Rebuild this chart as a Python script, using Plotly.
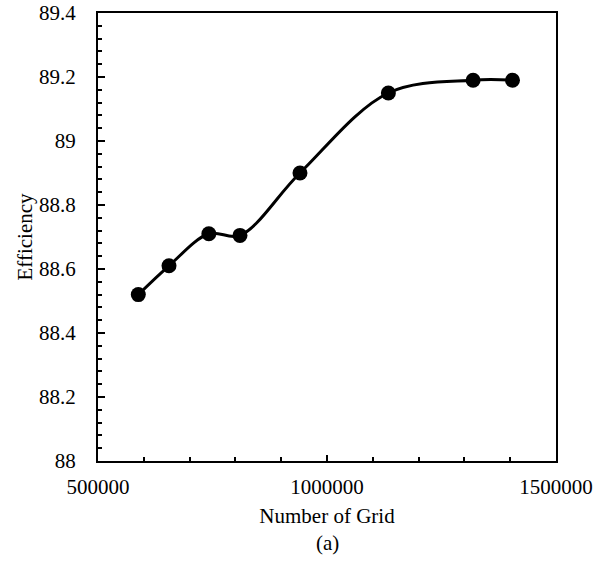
import plotly.graph_objects as go

grid = [588000, 655000, 742000, 810000, 941000, 1134000, 1319000, 1405000]
efficiency = [88.52, 88.61, 88.71, 88.705, 88.90, 89.15, 89.19, 89.19]

x_tickvals = [500000, 1000000, 1500000]
x_ticktext = ["500000", "1000000", "1500000"]
y_tickvals = [88.0, 88.2, 88.4, 88.6, 88.8, 89.0, 89.2, 89.4]
y_ticktext = ["88", "88.2", "88.4", "88.6", "88.8", "89", "89.2", "89.4"]

FONT = "Times New Roman"

fig = go.Figure()
fig.add_trace(go.Scatter(
    x=grid, y=efficiency, mode="lines+markers",
    line=dict(color="black", width=3, shape="spline", smoothing=1.0),
    marker=dict(color="black", size=15),
    showlegend=False,
))

fig.update_layout(
    width=604, height=561,
    margin=dict(l=98, r=48, t=13, b=100, autoexpand=False),
    paper_bgcolor="white", plot_bgcolor="white",
    font=dict(family=FONT, size=21, color="black"),
    xaxis=dict(
        range=[500000, 1500000], tickvals=x_tickvals, ticktext=x_ticktext,
        ticks="inside", ticklen=6, tickwidth=2, tickcolor="black",
        minor=dict(dtick=100000, tick0=500000, ticks="inside", ticklen=4, tickwidth=2, tickcolor="black"),
        showline=True, linewidth=2, linecolor="black", mirror=True,
        showgrid=False, zeroline=False, automargin=False,
        tickfont=dict(family=FONT, size=21),
        ticklabelstandoff=6, ticklabeloverflow="allow",
        title=dict(text="Number of Grid", font=dict(family=FONT, size=21), standoff=10),
    ),
    yaxis=dict(
        range=[88.0, 89.4], tickvals=y_tickvals, ticktext=y_ticktext,
        ticks="inside", ticklen=7, tickwidth=2, tickcolor="black",
        minor=dict(dtick=0.04, tick0=88.0, ticks="inside", ticklen=4, tickwidth=2, tickcolor="black"),
        showline=True, linewidth=2, linecolor="black", mirror=True,
        showgrid=False, zeroline=False, automargin=False,
        tickfont=dict(family=FONT, size=21),
        ticklabelstandoff=16, ticklabeloverflow="allow",
        title=dict(text="Efficiency", font=dict(family=FONT, size=21), standoff=1),
    ),
    annotations=[dict(
        text="(a)", xref="paper", yref="paper", x=0.5, y=-0.182,
        xanchor="center", yanchor="middle", showarrow=False,
        font=dict(family=FONT, size=21, color="black"),
    )],
)

fig.write_html("out.html", config={"displayModeBar": False},
               post_script="document.body.style.margin='0';")
